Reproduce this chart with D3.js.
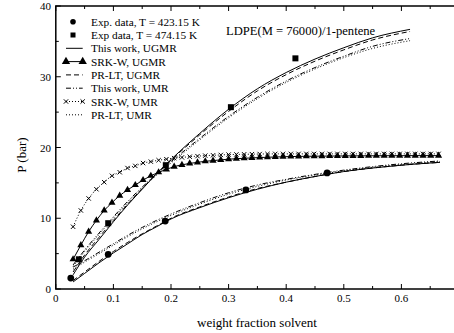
<!DOCTYPE html>
<html>
<head>
<meta charset="utf-8">
<script src="https://cdn.jsdelivr.net/npm/d3@7"></script>
<style>
  html, body { margin: 0; padding: 0; background: #fff; }
  svg { display: block; }
</style>
</head>
<body>
<svg id="chart" width="454" height="333"></svg>
<script>
// Experimental bubble-point data, LDPE(M = 76000)/1-pentene
const expLowX = [0.026, 0.091, 0.19, 0.33, 0.471];
const expLowP = [1.55, 4.9, 9.6, 14.0, 16.4];
const expHighX = [0.040, 0.091, 0.191, 0.304, 0.416];
const expHighP = [4.2, 9.3, 17.5, 25.7, 32.6];

// Model curves, T = 474.15 K
const highX = [0.03, 0.05, 0.075, 0.1, 0.125, 0.15, 0.175, 0.2, 0.25, 0.3, 0.35, 0.4, 0.45, 0.5, 0.55, 0.615];
const highThisUGMR = [2.0, 4.5, 7.0, 9.5, 11.9, 14.1, 16.3, 18.3, 22.0, 25.4, 28.3, 30.6, 32.5, 34.1, 35.5, 36.7];
const highPRUGMR   = [2.4, 4.8, 7.3, 9.7, 12.0, 14.2, 16.3, 18.2, 21.8, 25.1, 28.0, 30.3, 32.2, 33.8, 35.2, 36.4];
const highThisUMR  = [3.4, 5.5, 7.9, 10.2, 12.4, 14.4, 16.3, 18.0, 21.3, 24.4, 27.1, 29.4, 31.3, 32.9, 34.3, 35.4];
const highPRUMR    = [3.2, 5.3, 7.7, 10.0, 12.2, 14.2, 16.1, 17.8, 21.1, 24.2, 26.9, 29.2, 31.1, 32.7, 34.0, 35.1];

// Model curves, T = 423.15 K
const lowX = [0.03, 0.05, 0.075, 0.1, 0.125, 0.15, 0.175, 0.2, 0.25, 0.3, 0.35, 0.4, 0.45, 0.5, 0.55, 0.6, 0.667];
const lowThisUGMR = [1.0, 2.2, 3.7, 5.1, 6.4, 7.7, 8.8, 9.9, 11.5, 12.9, 14.1, 15.1, 15.9, 16.6, 17.1, 17.5, 17.9];
const lowPRUGMR   = [1.2, 2.4, 3.9, 5.3, 6.6, 7.8, 8.9, 10.0, 11.6, 13.0, 14.2, 15.1, 15.9, 16.6, 17.1, 17.5, 17.9];
const lowThisUMR  = [3.1, 4.0, 5.2, 6.4, 7.6, 8.7, 9.7, 10.6, 12.2, 13.6, 14.7, 15.5, 16.2, 16.8, 17.3, 17.7, 18.1];
const lowPRUMR    = [2.8, 3.8, 5.0, 6.2, 7.4, 8.5, 9.5, 10.4, 12.0, 13.4, 14.5, 15.4, 16.1, 16.7, 17.2, 17.6, 18.0];

// SRK-W curves (marked at every computed point)
const srkX = [0.030, 0.0435, 0.057, 0.0705, 0.084, 0.0975, 0.111, 0.1245, 0.138, 0.1515,
  0.165, 0.1785, 0.192, 0.2055, 0.219, 0.2325, 0.246, 0.2595, 0.273, 0.2865,
  0.300, 0.3135, 0.327, 0.3405, 0.354, 0.3675, 0.381, 0.3945, 0.408, 0.4215,
  0.435, 0.4485, 0.462, 0.4755, 0.489, 0.5025, 0.516, 0.5295, 0.543, 0.5565,
  0.570, 0.5835, 0.597, 0.6105, 0.624, 0.6375, 0.651, 0.6645];
const srkUGMR = [4.2, 6.2, 8.1, 9.7, 11.1, 12.2, 13.2, 14.0, 14.7, 15.4,
  16.0, 16.5, 16.9, 17.3, 17.55, 17.75, 17.9, 18.05, 18.15, 18.25,
  18.35, 18.42, 18.48, 18.53, 18.58, 18.62, 18.66, 18.69, 18.72, 18.74,
  18.76, 18.77, 18.78, 18.79, 18.8, 18.81, 18.82, 18.82, 18.83, 18.83,
  18.84, 18.84, 18.84, 18.85, 18.85, 18.85, 18.85, 18.85];
const srkUMR = [8.8, 11.1, 12.8, 14.1, 15.1, 16.0, 16.5, 17.1, 17.4, 17.8,
  18.0, 18.2, 18.35, 18.5, 18.6, 18.7, 18.78, 18.85, 18.9, 18.95,
  19.0, 19.02, 19.04, 19.06, 19.08, 19.09, 19.1, 19.1, 19.1, 19.1,
  19.1, 19.1, 19.1, 19.1, 19.1, 19.1, 19.1, 19.1, 19.1, 19.1,
  19.1, 19.1, 19.1, 19.1, 19.1, 19.1, 19.1, 19.1];

const xTicks = [0, 0.1, 0.2, 0.3, 0.4, 0.5, 0.6, 0.7];
const xTickLabels = ["0", "0.1", "0.2", "0.3", "0.4", "0.5", "0.6"];
const yTicks = [0, 10, 20, 30, 40];

const legendLabels = [
  "Exp. data, T = 423.15 K",
  "Exp data, T = 474.15 K",
  "This work, UGMR",
  "SRK-W, UGMR",
  "PR-LT, UGMR",
  "This work, UMR",
  "SRK-W, UMR",
  "PR-LT, UMR"
];

const FONT = "'Liberation Serif', 'Times New Roman', Times, serif";

const svg = d3.select("#chart");
const x = d3.scaleLinear().domain([0, 0.7]).range([55.8, 459]);
const y = d3.scaleLinear().domain([0, 40]).range([289, 6]);

const styles = {
  solid: null,
  dashed: "5,3",
  dashdot: "5,2,1,2,1,2",
  dotted: "1,2"
};

const zip = (xs, ys) => xs.map((v, i) => [v, ys[i]]);
const line = d3.line().x(d => x(d[0])).y(d => y(d[1])).curve(d3.curveMonotoneX);

const plot = svg.append("g");

function drawCurve(xs, ys, dash) {
  plot.append("path")
    .datum(zip(xs, ys))
    .attr("d", line)
    .attr("fill", "none")
    .attr("stroke", "#000")
    .attr("stroke-width", 1)
    .attr("stroke-dasharray", dash);
}

drawCurve(highX, highThisUGMR, styles.solid);
drawCurve(highX, highPRUGMR, styles.dashed);
drawCurve(highX, highThisUMR, styles.dashdot);
drawCurve(highX, highPRUMR, styles.dotted);
drawCurve(lowX, lowThisUGMR, styles.solid);
drawCurve(lowX, lowPRUGMR, styles.dashed);
drawCurve(lowX, lowThisUMR, styles.dashdot);
drawCurve(lowX, lowPRUMR, styles.dotted);
drawCurve(srkX, srkUGMR, styles.solid);
drawCurve(srkX, srkUMR, styles.dotted);

const tri = d3.symbol().type(d3.symbolTriangle).size(22);
const triLegend = d3.symbol().type(d3.symbolTriangle).size(30);
const cross = d3.symbol().type(d3.symbolX).size(14);

function drawTriangles(g, pts, sym) {
  g.selectAll(null).data(pts).enter().append("path")
    .attr("d", sym || tri)
    .attr("transform", d => `translate(${d[0]},${d[1]})`)
    .attr("fill", "#000");
}
function drawCrosses(g, pts) {
  g.selectAll(null).data(pts).enter().append("path")
    .attr("d", cross)
    .attr("transform", d => `translate(${d[0]},${d[1]})`)
    .attr("fill", "none")
    .attr("stroke", "#000")
    .attr("stroke-width", 1);
}

drawTriangles(plot, zip(srkX, srkUGMR).map(d => [x(d[0]), y(d[1])]));
drawCrosses(plot, zip(srkX, srkUMR).map(d => [x(d[0]), y(d[1])]));

plot.selectAll(null).data(zip(expLowX, expLowP)).enter().append("circle")
  .attr("cx", d => x(d[0])).attr("cy", d => y(d[1])).attr("r", 3.4).attr("fill", "#000");
plot.selectAll(null).data(zip(expHighX, expHighP)).enter().append("rect")
  .attr("x", d => x(d[0]) - 3).attr("y", d => y(d[1]) - 3)
  .attr("width", 6).attr("height", 6).attr("fill", "#000");

// Axes: ticks pointing inward on all four sides
const minorX = [0.05, 0.15, 0.25, 0.35, 0.45, 0.55, 0.65];
const minorY = [5, 15, 25, 35];
const axes = svg.append("g").attr("stroke", "#000");

function ticks(vals, len, pos) {
  vals.forEach(v => {
    if (pos === "x") {
      axes.append("line").attr("x1", x(v)).attr("x2", x(v)).attr("y1", y(0)).attr("y2", y(0) - len);
      axes.append("line").attr("x1", x(v)).attr("x2", x(v)).attr("y1", y(40)).attr("y2", y(40) + len);
    } else {
      axes.append("line").attr("y1", y(v)).attr("y2", y(v)).attr("x1", x(0)).attr("x2", x(0) + len);
      axes.append("line").attr("y1", y(v)).attr("y2", y(v)).attr("x1", x(0.7)).attr("x2", x(0.7) - len);
    }
  });
}
ticks(xTicks, 5, "x");
ticks(minorX, 3, "x");
ticks(yTicks, 5, "y");
ticks(minorY, 3, "y");

axes.append("rect")
  .attr("x", x(0)).attr("y", y(40))
  .attr("width", x(0.7) - x(0)).attr("height", y(0) - y(40))
  .attr("fill", "none").attr("stroke-width", 1.5);

const txt = (sel) => sel.attr("font-family", FONT).attr("fill", "#000");

svg.append("g").selectAll("text").data(xTickLabels).enter().append("text")
  .attr("x", (d, i) => x(xTicks[i])).attr("y", 302)
  .attr("text-anchor", "middle").attr("font-size", 11)
  .call(txt)
  .text(d => d);
svg.append("g").selectAll("text").data(yTicks).enter().append("text")
  .attr("x", 51).attr("y", d => y(d) + 4)
  .attr("text-anchor", "end").attr("font-size", 11)
  .call(txt)
  .text(d => d);

svg.append("text")
  .attr("x", 257).attr("y", 327)
  .attr("text-anchor", "middle").attr("font-size", 13)
  .call(txt)
  .text("weight fraction solvent");
svg.append("text")
  .attr("transform", "translate(26,155) rotate(-90)")
  .attr("text-anchor", "middle").attr("font-size", 13)
  .call(txt)
  .text("P (bar)");

svg.append("text")
  .attr("x", 226).attr("y", 35)
  .attr("font-size", 12.6)
  .call(txt)
  .text("LDPE(M = 76000)/1-pentene");

// Legend
const leg = svg.append("g");
const legY0 = 21.7, legDy = 13.3, symL = 66, symR = 82.7, textX = 91;
legendLabels.forEach((lab, i) => {
  const yy = legY0 + i * legDy;
  const g = leg.append("g");
  if (i === 0) {
    g.append("circle").attr("cx", 73).attr("cy", yy).attr("r", 2.8).attr("fill", "#000");
  } else if (i === 1) {
    g.append("rect").attr("x", 70.5).attr("y", yy - 2.5).attr("width", 5).attr("height", 5).attr("fill", "#000");
  } else {
    const dash = [null, null, styles.solid, styles.solid, styles.dashed, styles.dashdot, styles.dotted, styles.dotted][i];
    g.append("line").attr("x1", symL).attr("x2", symR).attr("y1", yy).attr("y2", yy)
      .attr("stroke", "#000").attr("stroke-width", 1).attr("stroke-dasharray", dash);
    if (i === 3) drawTriangles(g, [[symL, yy], [symR, yy]], triLegend);
    if (i === 6) drawCrosses(g, [[symL, yy], [symR, yy]]);
  }
  g.append("text").attr("x", textX).attr("y", yy + 4).attr("font-size", 11.3)
    .call(txt).text(lab);
});
</script>
</body>
</html>
